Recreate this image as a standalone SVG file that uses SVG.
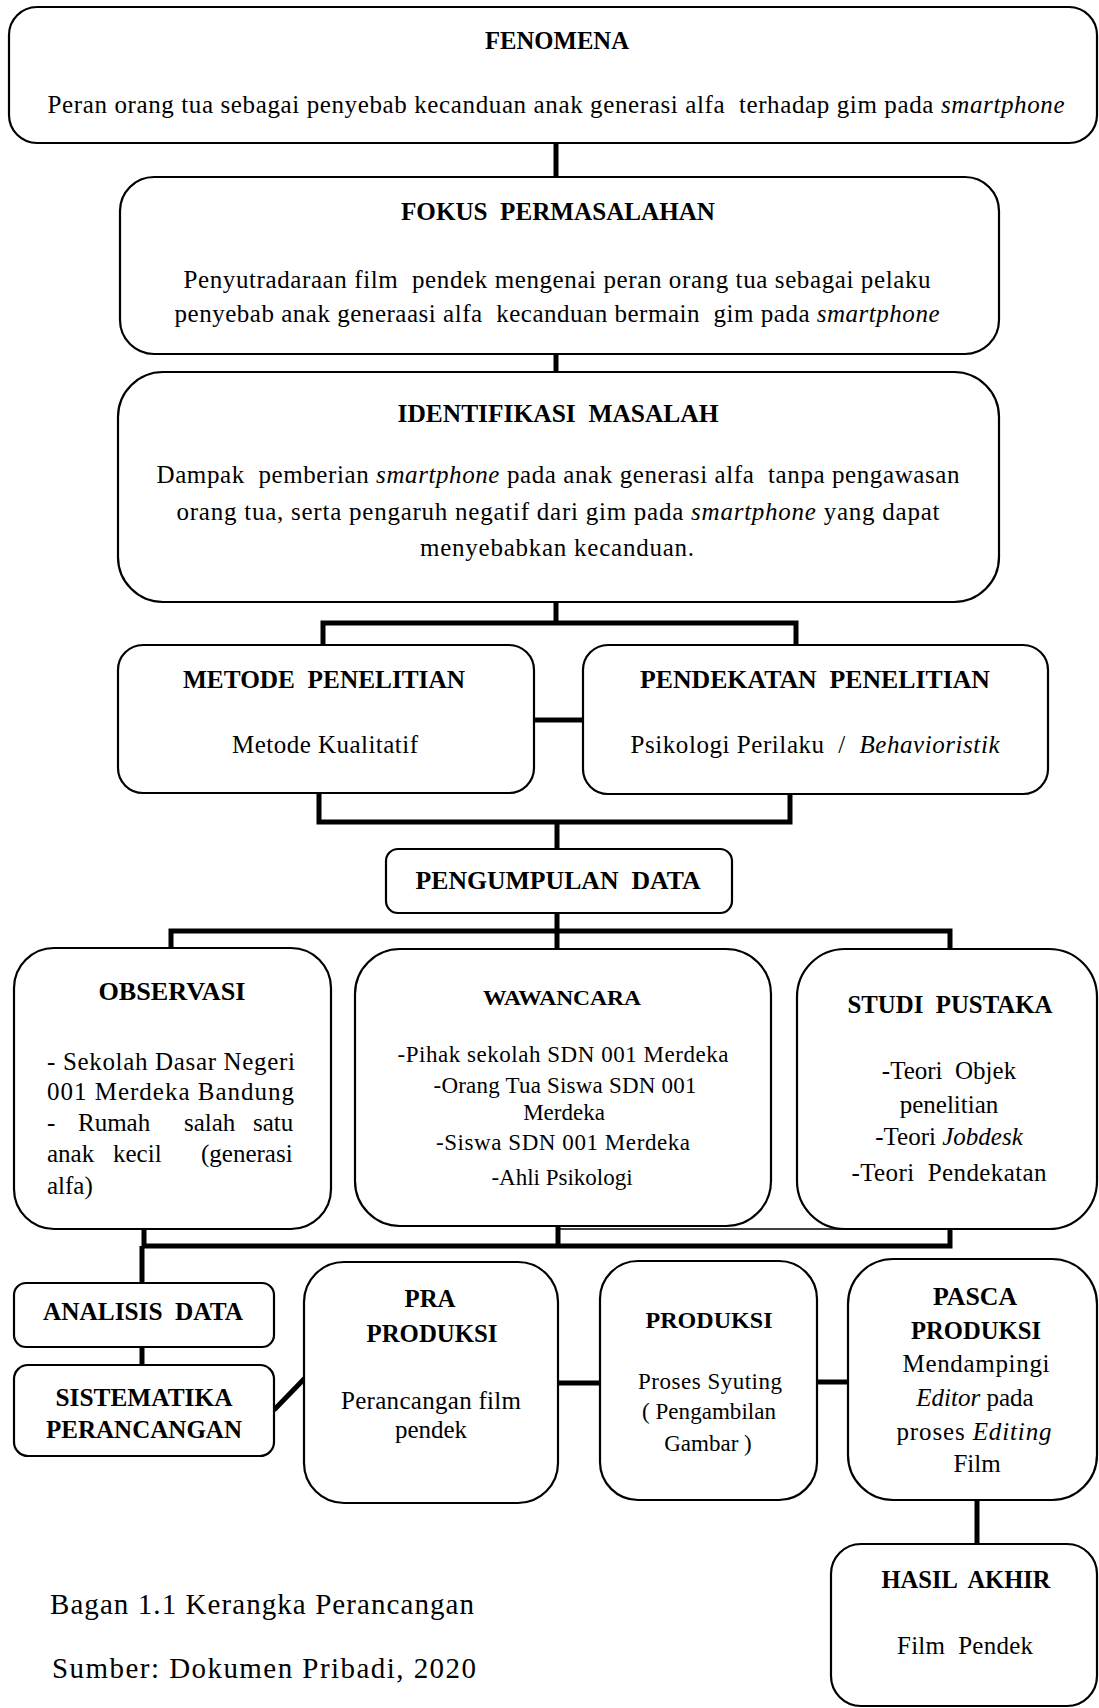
<svg xmlns="http://www.w3.org/2000/svg" width="1099" height="1708" viewBox="0 0 1099 1708">
<style>
.box{fill:#fff;stroke:#000;stroke-width:2.2}
.con{fill:none;stroke:#000;stroke-width:5;stroke-linejoin:miter}
.thin{fill:none;stroke:#000;stroke-width:1.5}
text{font-family:"Liberation Serif","Times New Roman",serif;fill:#000;white-space:pre}
.t{font-size:25px;font-weight:bold;text-anchor:middle}
.b{font-size:25px;text-anchor:middle}
.s{font-size:23px;text-anchor:middle}
.l{font-size:25px}
.cap{font-size:29px}
.i{font-style:italic}
</style>
<rect width="1099" height="1708" fill="#fff"/>
<g id="connectors">
<path class="con" d="M556,143V177"/>
<path class="con" d="M556,354V372"/>
<path class="con" d="M556,602V623M323,645V623H796V645"/>
<path class="con" d="M534,720H583"/>
<path class="con" d="M319,793V822H790V794M557,822V849"/>
<path class="con" d="M557,913V931M171,948V931H950V948M557,931V949"/>
<path class="con" d="M144,1229V1246H950V1229M558,1226V1246M142,1246V1283"/>
<path class="thin" d="M558,1229H950"/>
<path class="con" d="M142,1347V1365"/>
<path class="con" d="M274,1410L305,1378"/>
<path class="con" d="M558,1383H600"/>
<path class="con" d="M817,1382H848"/>
<path class="con" d="M977,1500V1544"/>
</g>
<g id="fenomena">
<rect class="box" x="9" y="7" width="1088" height="136" rx="28"/>
<text class="t" x="557" y="49" textLength="144" lengthAdjust="spacingAndGlyphs">FENOMENA</text>
<text class="b" x="556" y="113" textLength="1017">Peran orang tua sebagai penyebab kecanduan anak generasi alfa  terhadap gim pada <tspan class="i">smartphone</tspan></text>
</g>
<g id="fokus">
<rect class="box" x="120" y="177" width="879" height="177" rx="34"/>
<text class="t" x="558" y="220" textLength="314" lengthAdjust="spacingAndGlyphs">FOKUS  PERMASALAHAN</text>
<text class="b" x="557" y="288" textLength="747">Penyutradaraan film  pendek mengenai peran orang tua sebagai pelaku</text>
<text class="b" x="557" y="322" textLength="765">penyebab anak generaasi alfa  kecanduan bermain  gim pada <tspan class="i">smartphone</tspan></text>
</g>
<g id="identifikasi">
<rect class="box" x="118" y="372" width="881" height="230" rx="45"/>
<text class="t" x="558" y="422" textLength="321" lengthAdjust="spacingAndGlyphs">IDENTIFIKASI  MASALAH</text>
<text class="b" x="558" y="483" textLength="803">Dampak  pemberian <tspan class="i">smartphone</tspan> pada anak generasi alfa  tanpa pengawasan</text>
<text class="b" x="558" y="520" textLength="763">orang tua, serta pengaruh negatif dari gim pada <tspan class="i">smartphone</tspan> yang dapat</text>
<text class="b" x="557" y="556" textLength="274">menyebabkan kecanduan.</text>
</g>
<g id="metode">
<rect class="box" x="118" y="645" width="416" height="148" rx="25"/>
<text class="t" x="324" y="688" textLength="282" lengthAdjust="spacingAndGlyphs">METODE  PENELITIAN</text>
<text class="b" x="325" y="753" textLength="186">Metode Kualitatif</text>
</g>
<g id="pendekatan">
<rect class="box" x="583" y="645" width="465" height="149" rx="25"/>
<text class="t" x="815" y="688" textLength="350" lengthAdjust="spacingAndGlyphs">PENDEKATAN  PENELITIAN</text>
<text class="b" x="815" y="753" textLength="369">Psikologi Perilaku  /  <tspan class="i">Behavioristik</tspan></text>
</g>
<g id="pengumpulan">
<rect class="box" x="386" y="849" width="346" height="64" rx="12"/>
<text class="t" x="558" y="889" textLength="285" lengthAdjust="spacingAndGlyphs">PENGUMPULAN  DATA</text>
</g>
<g id="observasi">
<rect class="box" x="14" y="948" width="317" height="281" rx="40"/>
<text class="t" x="172" y="1000" textLength="147" lengthAdjust="spacingAndGlyphs">OBSERVASI</text>
<text class="l" x="47" y="1070" textLength="248">- Sekolah Dasar Negeri</text>
<text class="l" x="47" y="1100" textLength="247">001 Merdeka Bandung</text>
<text class="l" y="1131"><tspan x="47">-</tspan><tspan x="78">Rumah</tspan><tspan x="184">salah</tspan><tspan x="253">satu</tspan></text>
<text class="l" y="1162"><tspan x="47">anak</tspan><tspan x="113">kecil</tspan><tspan x="201">(generasi</tspan></text>
<text class="l" x="47" y="1194">alfa)</text>
</g>
<g id="wawancara">
<rect class="box" x="355" y="949" width="416" height="277" rx="45"/>
<text class="t" x="562" y="1005" style="font-size:22px" textLength="158" lengthAdjust="spacingAndGlyphs">WAWANCARA</text>
<text class="s" x="563" y="1062" textLength="331">-Pihak sekolah SDN 001 Merdeka</text>
<text class="s" x="565" y="1093" textLength="263">-Orang Tua Siswa SDN 001</text>
<text class="s" x="564" y="1120">Merdeka</text>
<text class="s" x="563" y="1150" textLength="254">-Siswa SDN 001 Merdeka</text>
<text class="s" x="562" y="1185">-Ahli Psikologi</text>
</g>
<g id="studi-pustaka">
<rect class="box" x="797" y="949" width="300" height="280" rx="48"/>
<text class="t" x="950" y="1013" textLength="205" lengthAdjust="spacingAndGlyphs">STUDI  PUSTAKA</text>
<text class="b" x="949" y="1079">-Teori  Objek</text>
<text class="b" x="949" y="1113">penelitian</text>
<text class="b" x="949" y="1145">-Teori <tspan class="i">Jobdesk</tspan></text>
<text class="b" x="949" y="1181" textLength="195">-Teori  Pendekatan</text>
</g>
<g id="analisis-data">
<rect class="box" x="14" y="1283" width="260" height="64" rx="12"/>
<text class="t" x="143" y="1320" textLength="200" lengthAdjust="spacingAndGlyphs">ANALISIS  DATA</text>
</g>
<g id="sistematika">
<rect class="box" x="14" y="1365" width="260" height="91" rx="14"/>
<text class="t" x="144" y="1406" textLength="177" lengthAdjust="spacingAndGlyphs">SISTEMATIKA</text>
<text class="t" x="144" y="1438" textLength="196" lengthAdjust="spacingAndGlyphs">PERANCANGAN</text>
</g>
<g id="pra-produksi">
<rect class="box" x="304" y="1262" width="254" height="241" rx="40"/>
<text class="t" x="430" y="1307" textLength="51" lengthAdjust="spacingAndGlyphs">PRA</text>
<text class="t" x="432" y="1342" textLength="131" lengthAdjust="spacingAndGlyphs">PRODUKSI</text>
<text class="b" x="431" y="1409" textLength="180">Perancangan film</text>
<text class="b" x="431" y="1438">pendek</text>
</g>
<g id="produksi">
<rect class="box" x="600" y="1261" width="217" height="239" rx="38"/>
<text class="t" x="709" y="1328" style="font-size:23px" textLength="127" lengthAdjust="spacingAndGlyphs">PRODUKSI</text>
<text class="s" x="710" y="1389" textLength="144">Proses Syuting</text>
<text class="s" x="709" y="1419" textLength="134">( Pengambilan</text>
<text class="s" x="708" y="1451">Gambar )</text>
</g>
<g id="pasca-produksi">
<rect class="box" x="848" y="1259" width="249" height="241" rx="45"/>
<text class="t" x="975" y="1305" textLength="84" lengthAdjust="spacingAndGlyphs">PASCA</text>
<text class="t" x="976" y="1339" textLength="130" lengthAdjust="spacingAndGlyphs">PRODUKSI</text>
<text class="b" x="976" y="1372" textLength="147">Mendampingi</text>
<text class="b" x="975" y="1406"><tspan class="i">Editor</tspan> pada</text>
<text class="b" x="974" y="1440" textLength="155">proses <tspan class="i">Editing</tspan></text>
<text class="b" x="977" y="1472">Film</text>
</g>
<g id="hasil-akhir">
<rect class="box" x="831" y="1544" width="266" height="162" rx="30"/>
<text class="t" x="966" y="1588" textLength="169" lengthAdjust="spacingAndGlyphs">HASIL  AKHIR</text>
<text class="b" x="965" y="1654" textLength="136">Film  Pendek</text>
</g>
<g id="caption">
<text class="cap" x="50" y="1614" textLength="424">Bagan 1.1 Kerangka Perancangan</text>
<text class="cap" x="52" y="1678" textLength="424">Sumber: Dokumen Pribadi, 2020</text>
</g>
</svg>
